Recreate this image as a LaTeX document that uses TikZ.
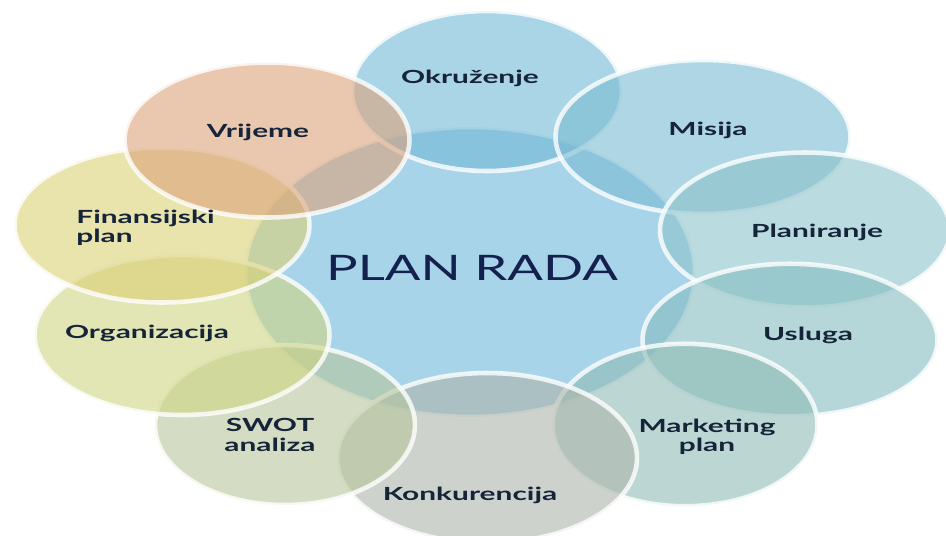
\documentclass[tikz,border=0pt]{standalone}
\usepackage{fontspec}
\setmainfont{Lato}[FakeStretch=1.5]
\newfontfamily\petalfont{Lato}[FakeStretch=1.65]
\usetikzlibrary{shapes.geometric}

\definecolor{centrec}{RGB}{110,183,220}
\definecolor{okrc}{RGB}{113,185,213}
\definecolor{misc}{RGB}{122,187,210}
\definecolor{planc}{RGB}{140,195,203}
\definecolor{uslc}{RGB}{133,188,192}
\definecolor{mktc}{RGB}{143,188,182}
\definecolor{konc}{RGB}{173,180,170}
\definecolor{swotc}{RGB}{183,198,155}
\definecolor{orgc}{RGB}{207,213,130}
\definecolor{finc}{RGB}{218,208,117}
\definecolor{vric}{RGB}{220,163,122}
\definecolor{navy}{RGB}{22,36,58}

\tikzset{
  petal/.style={ellipse, draw=white, draw opacity=0.8, line width=2.6pt, fill opacity=0.6},
  lbl/.style={font=\petalfont\bfseries\fontsize{10.3}{11}\selectfont, text=navy, align=center, inner sep=0pt}
}

\begin{document}
\begin{tikzpicture}[x=0.02cm, y=-0.02cm]
  \useasboundingbox (0,0) rectangle (946,535);

  \node[petal, fill=centrec, minimum width=9cm, minimum height=5.8cm] (centre) at (470,272) {};

  \node[petal, fill=okrc, minimum width=5.4cm, minimum height=3.2cm] (okr) at (487,91) {};
  \node[petal, fill=misc, minimum width=5.9cm, minimum height=3.08cm] (mis) at (703,137) {};
  \node[petal, fill=planc, minimum width=5.8cm, minimum height=3.1cm] (plan) at (805,230) {};
  \node[petal, fill=uslc, minimum width=5.9cm, minimum height=3.05cm] (usl) at (790,340) {};
  \node[petal, fill=mktc, minimum width=5.3cm, minimum height=3.25cm] (mkt) at (685,425) {};
  \node[petal, fill=konc, minimum width=6cm, minimum height=3.4cm] (kon) at (487,458) {};
  \node[petal, fill=swotc, minimum width=5.2cm, minimum height=3.2cm] (swot) at (285,425) {};
  \node[petal, fill=orgc, minimum width=5.9cm, minimum height=3.2cm] (org) at (182,335) {};
  \node[petal, fill=finc, minimum width=5.9cm, minimum height=3.1cm] (fin) at (162,225) {};
  \node[petal, fill=vric, minimum width=5.7cm, minimum height=3.1cm] (vri) at (267,140) {};

  % labels
  \node[font=\fontsize{20}{22}\selectfont, text=navy!90!blue] (centret) at (472,268) {PLAN RADA};
  \node[lbl] (okrt) at (470,78) {Okruženje};
  \node[lbl] (mist) at (708,130) {Misija};
  \node[lbl] (plant) at (817,232) {Planiranje};
  \node[lbl] (uslt) at (808,335) {Usluga};
  \node[lbl] (mktt) at (707,437) {Marketing\\plan};
  \node[lbl] (kont) at (470,495) {Konkurencija};
  \node[lbl] (swott) at (270,435) {SWOT\\analiza};
  \node[lbl] (orgt) at (147,333) {Organizacija};
  \node[lbl, align=left, anchor=west] (fint) at (76,228) {Finansijski\\plan};
  \node[lbl] (vrit) at (258,132) {Vrijeme};
\end{tikzpicture}
\end{document}
